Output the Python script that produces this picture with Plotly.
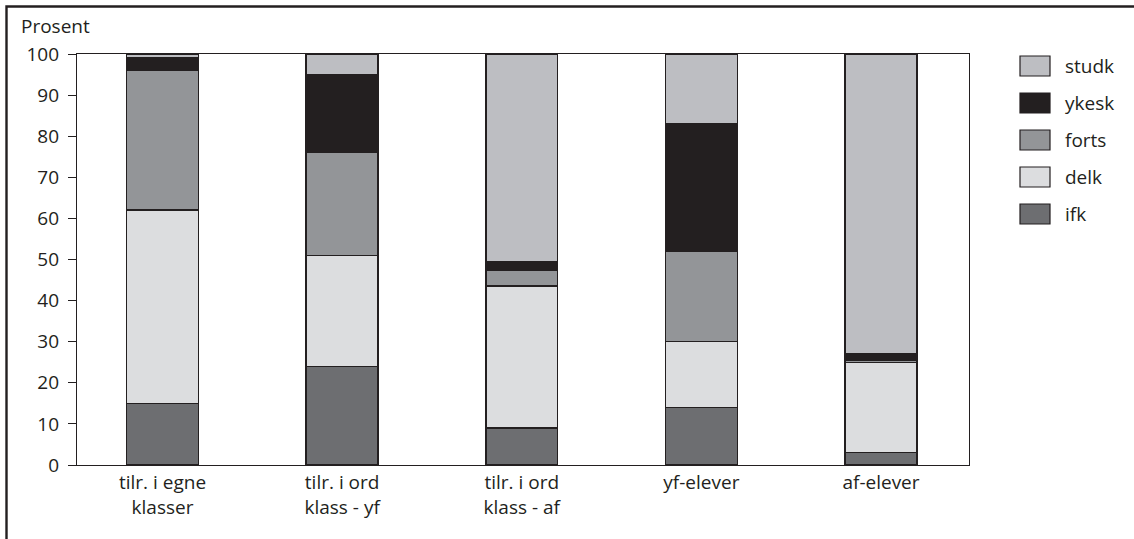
import plotly.graph_objects as go

# Categories and stacked shares (percent)
categories = ["tilr. i egne<br>klasser", "tilr. i ord<br>klass - yf", "tilr. i ord<br>klass - af",
              "yf-elever", "af-elever"]
ifk = [15, 24, 9, 14, 3]
delk = [47, 27, 34.5, 16, 22]
forts = [34, 25, 4, 22, 0.5]
ykesk = [3, 19, 2, 31, 1.5]
studk = [1, 5, 50.5, 17, 73]

series_names = ["ifk", "delk", "forts", "ykesk", "studk"]
series_values = [ifk, delk, forts, ykesk, studk]
series_colors = ["#6d6e71", "#dcdddf", "#939598", "#231f20", "#bdbec2"]

y_ticks = list(range(0, 101, 10))

FONT = "Open Sans"
FS = 19
INK = "#231f20"

fig = go.Figure()
for name, vals, col in zip(series_names, series_values, series_colors):
    fig.add_trace(go.Bar(
        x=list(range(len(categories))), y=vals, name=name,
        marker=dict(color=col, line=dict(color=INK, width=1.5)),
        width=0.4, showlegend=False,
    ))

# Plot area geometry in pixels
W, H = 1134, 539
L, R, T, B = 77, 165, 54, 74
pw, ph = W - L - R, H - T - B

def px_x(x):
    return (x - L) / pw

def px_y(y):
    return (H - B - y) / ph

shapes = []
annotations = []

# Outer frame around the figure
shapes.append(dict(type="rect", xref="paper", yref="paper",
                   x0=px_x(6.5), x1=px_x(1160), y0=px_y(560), y1=px_y(6.5),
                   line=dict(color=INK, width=2.4), fillcolor="rgba(0,0,0,0)", layer="above"))

# Legend drawn as boxes with labels, top to bottom
legend_order = ["studk", "ykesk", "forts", "delk", "ifk"]
for i, name in enumerate(legend_order):
    col = series_colors[series_names.index(name)]
    cy = 66 + i * 37
    shapes.append(dict(type="rect", xref="paper", yref="paper",
                       x0=px_x(1020), x1=px_x(1050), y0=px_y(cy + 10), y1=px_y(cy - 10),
                       line=dict(color=INK, width=1.2), fillcolor=col))
    annotations.append(dict(text=name, xref="paper", yref="paper",
                            x=px_x(1063), y=px_y(cy), xanchor="left", yanchor="middle",
                            showarrow=False, font=dict(family=FONT, size=FS, color=INK)))

# Axis title above the y axis
annotations.append(dict(text="Prosent", xref="paper", yref="paper",
                        x=px_x(19), y=px_y(41), xanchor="left", yanchor="bottom",
                        showarrow=False, font=dict(family=FONT, size=FS, color=INK)))

fig.update_layout(
    barmode="stack",
    width=W, height=H,
    margin=dict(l=L, r=R, t=T, b=B, pad=0),
    paper_bgcolor="white", plot_bgcolor="white",
    font=dict(family=FONT, size=FS, color=INK),
    shapes=shapes, annotations=annotations,
    xaxis=dict(
        tickmode="array", tickvals=list(range(len(categories))), ticktext=categories,
        range=[-0.476, 4.49], showgrid=False, zeroline=False,
        showline=True, linecolor=INK, linewidth=1.2, mirror=True,
        ticks="", tickfont=dict(family=FONT, size=FS, color=INK),
    ),
    yaxis=dict(
        range=[0, 100], tickvals=y_ticks, showgrid=False, zeroline=False,
        showline=True, linecolor=INK, linewidth=1.2, mirror=True,
        ticks="outside", ticklen=8, tickcolor=INK, tickwidth=1.2,
        ticklabelstandoff=5, tickfont=dict(family=FONT, size=FS, color=INK),
    ),
)

fig.write_html("out.html")
